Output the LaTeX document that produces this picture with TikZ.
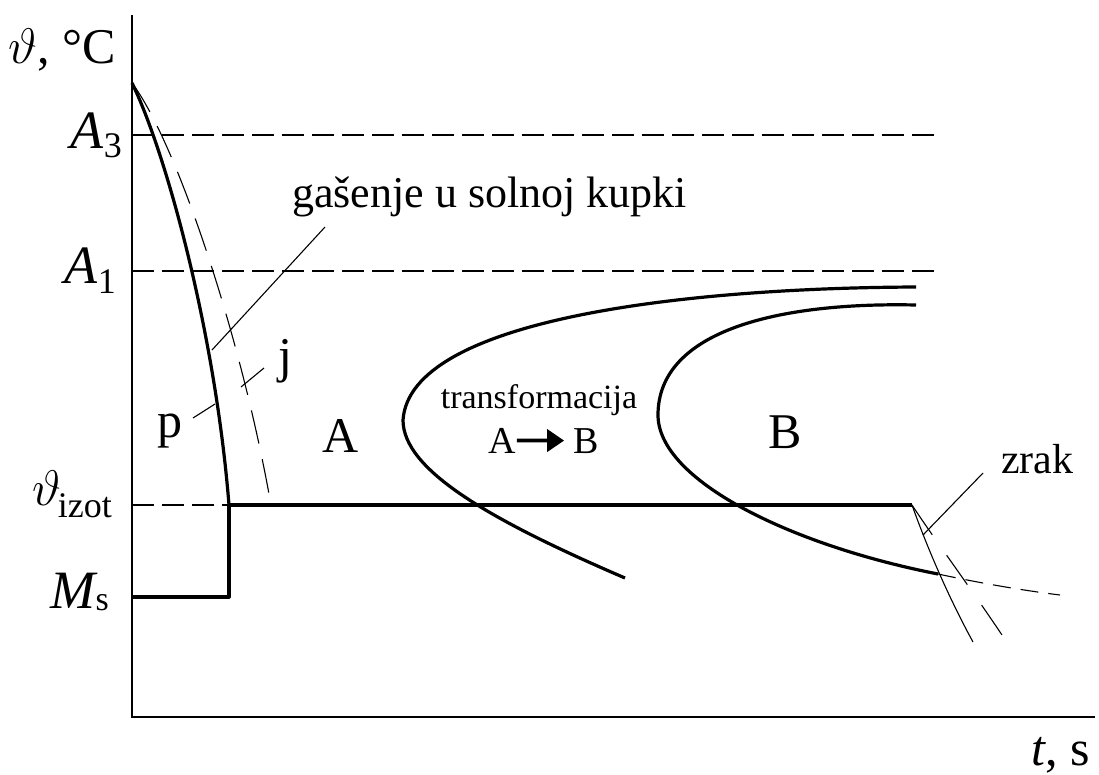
\RequirePackage{fix-cm}
\documentclass[tikz,border=0pt]{standalone}
\usepackage{fontspec}
\setmainfont{Liberation Serif}
\usetikzlibrary{arrows.meta}
\newcommand\fsz[1]{\fontsize{#1}{#1}\selectfont}
\newcommand\lsub[2]{\raisebox{-#1pt}{\fsz{36}#2}}
\begin{document}
\begin{tikzpicture}[x=1pt,y=-1pt,
  thickln/.style={line width=3.2pt, line join=round},
  thinln/.style={line width=1.1pt},
  axisln/.style={line width=1.5pt},
  hdash/.style={line width=1.1pt, dash pattern=on 22pt off 8pt},
  jdash/.style={line width=1.1pt, dash pattern=on 34pt off 16pt},
  lbl/.style={inner sep=0pt, font=\fsz{50}},
  txt/.style={inner sep=0pt, font=\fsz{44}}
]
\useasboundingbox (0,0) rectangle (1099,774);
% axes
\coordinate (Ytop) at (132,15);
\coordinate (O) at (132,717);
\coordinate (Xend) at (1095,717);
\draw[axisln] (Ytop) -- (O) -- (Xend);
% axis labels
\node[lbl, anchor=base east] (ylab) at (116,63) {$\vartheta$, °C};
\node[lbl, anchor=base east] (xlab) at (1090,765) {\textit{t}, s};
\node[lbl, font=\fsz{54}, anchor=base east] (la3) at (122,148) {\textit{A}\lsub{9}{3}};
\node[lbl, font=\fsz{54}, anchor=base east] (la1) at (116,283) {\textit{A}\lsub{10}{1}};
\node[lbl, anchor=base east] (liz) at (112,505) {$\vartheta$\kern-4pt\lsub{12}{izot}};
\node[lbl, font=\fsz{54}, anchor=base east] (lms) at (109,608) {\textit{M}\kern-2pt\lsub{2}{\fsz{34}s}};
% reference lines
\coordinate (a3l) at (132,135); \coordinate (a3r) at (935,135);
\coordinate (a1l) at (132,271); \coordinate (a1r) at (935,271);
\coordinate (izl) at (132,505); \coordinate (P) at (229,505);
\coordinate (Pd) at (229,597); \coordinate (msl) at (132,597);
\coordinate (Q) at (912,505);
\draw[hdash] (a3l) -- (a3r);
\draw[hdash] (a1l) -- (a1r);
\draw[hdash] (izl) -- (P);
% start point
\coordinate (S) at (132,83);
\coordinate (J) at (271,505);
% p curve
\draw[thickln] (S) .. controls (165,150) and (215,330) .. (P);
\draw[thickln] (msl) -- (Pd) -- (P) -- (Q);
% j curve
\draw[jdash] (S) .. controls (175,140) and (240,330) .. (J);
% C curves
\coordinate (c1a) at (916,287); \coordinate (c1n) at (403,420); \coordinate (c1b) at (625,578);
\draw[thickln] (c1a) .. controls (680,288) and (410,320) .. (c1n)
   .. controls (403,470) and (490,520) .. (c1b);
\coordinate (c2a) at (916,305); \coordinate (c2n) at (658,415); \coordinate (c2b) at (938,574);
\coordinate (c2e) at (1060,595);
\draw[thickln] (c2a) .. controls (780,302) and (658,330) .. (c2n)
   .. controls (658,480) and (790,545) .. (c2b);
\draw[thinln, dash pattern=on 18pt off 10pt] (c2b) .. controls (980,583) and (1020,590) .. (c2e);
% air cooling
\coordinate (ac1) at (973,642); \coordinate (ac2) at (1002,635);
\draw[thinln] (Q) .. controls (928,550) and (950,600) .. (ac1);
\draw[thinln, dash pattern=on 36pt off 25pt] (Q) .. controls (935,540) and (965,580) .. (ac2);
% labels
\node[txt, anchor=base west] (gas) at (292,207) {gašenje u solnoj kupki};
\coordinate (g1) at (212,350); \coordinate (g2) at (325,227);
\draw[thinln] (g1) -- (g2);
\node[lbl, anchor=base] (lp) at (170,437) {p};
\coordinate (p1) at (193,418); \coordinate (p2) at (215,404);
\draw[thinln] (p1) -- (p2);
\node[lbl, anchor=base] (lj) at (285,372) {j};
\coordinate (j1) at (241,387); \coordinate (j2) at (264,368);
\draw[thinln] (j1) -- (j2);
\node[lbl, anchor=base] (lA) at (341,452) {A};
\node[lbl, anchor=base] (lB) at (785,448) {B};
\node[inner sep=0pt, font=\fsz{34}, anchor=base] (ltr) at (539,408) {transformacija};
\node[inner sep=0pt, font=\fsz{38}, anchor=base] (tA) at (502,453) {A};
\node[inner sep=0pt, font=\fsz{38}, anchor=base] (tB) at (586,453) {B};
\draw[line width=3.8pt, -{Triangle[length=17pt,width=22pt]}, shorten >=9pt, shorten <=1pt] (tA.east) -- (tB.west);
\node[txt, font=\fsz{42}, anchor=base west] (lz) at (1001,473) {zrak};
\coordinate (z1) at (923,535); \coordinate (z2) at (983,473);
\draw[thinln] (z1) -- (z2);
\end{tikzpicture}
\end{document}
